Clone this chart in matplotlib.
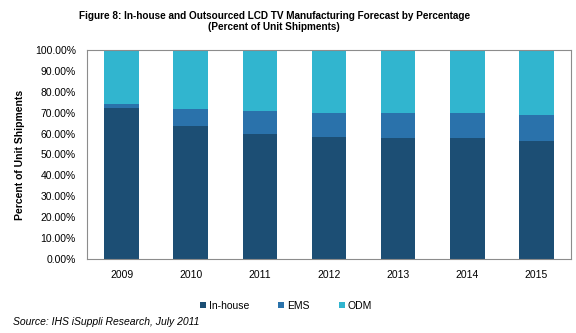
import numpy as np
import matplotlib.pyplot as plt
from matplotlib.ticker import FuncFormatter

plt.rc('font', family='Liberation Sans')

years = ['2009', '2010', '2011', '2012', '2013', '2014', '2015']
inhouse = [72.4, 63.8, 59.8, 58.4, 58.0, 57.7, 56.6]
ems = [1.8, 8.0, 11.0, 11.5, 11.9, 12.0, 12.5]
odm = [100 - a - b for a, b in zip(inhouse, ems)]

c_in, c_ems, c_odm = '#1c4e74', '#2a72ab', '#31b5cf'

fig = plt.figure(figsize=(5.76, 3.33), dpi=100)
ax = fig.add_axes([87/576, 1 - 259/333, 484/576, 209/333])

x = np.arange(len(years))
ax.bar(x, inhouse, 0.5, color=c_in, label='In-house')
ax.bar(x, ems, 0.5, bottom=inhouse, color=c_ems, label='EMS')
ax.bar(x, odm, 0.5, bottom=np.array(inhouse) + np.array(ems), color=c_odm, label='ODM')

ax.set_xlim(-0.5, len(years) - 0.5)
ax.set_ylim(0, 100)
ax.set_yticks(np.arange(0, 101, 10))
ax.yaxis.set_major_formatter(FuncFormatter(lambda v, p: '%.2f%%' % v))
ax.set_xticks(x)
ax.set_xticklabels(years)
ax.tick_params(axis='both', labelsize=7.5, length=0, pad=8)
ax.tick_params(axis='y', pad=8)
for s in ax.spines.values():
    s.set_color('#8c8c8c')
    s.set_linewidth(0.8)
ax.set_ylabel('Percent of Unit Shipments', fontsize=7.5, fontweight='bold', labelpad=7)

fig.text(0.476, 1 - 11/333, 'Figure 8: In-house and Outsourced LCD TV Manufacturing Forecast by Percentage\n(Percent of Unit Shipments)',
         ha='center', va='top', fontsize=7.2, fontweight='bold', linespacing=1.15)

fig.legend(loc='center', bbox_to_anchor=(286/576, 1 - 306/333), ncol=3, fontsize=7.5,
           frameon=False, handlelength=0.55, handleheight=0.55, handletextpad=0.3,
           columnspacing=2.8)

fig.text(13/576, 1 - 322/333, 'Source: IHS iSuppli Research, July 2011', fontsize=7.5,
         style='italic', va='center', ha='left')

fig.savefig('out.png', dpi=100)
